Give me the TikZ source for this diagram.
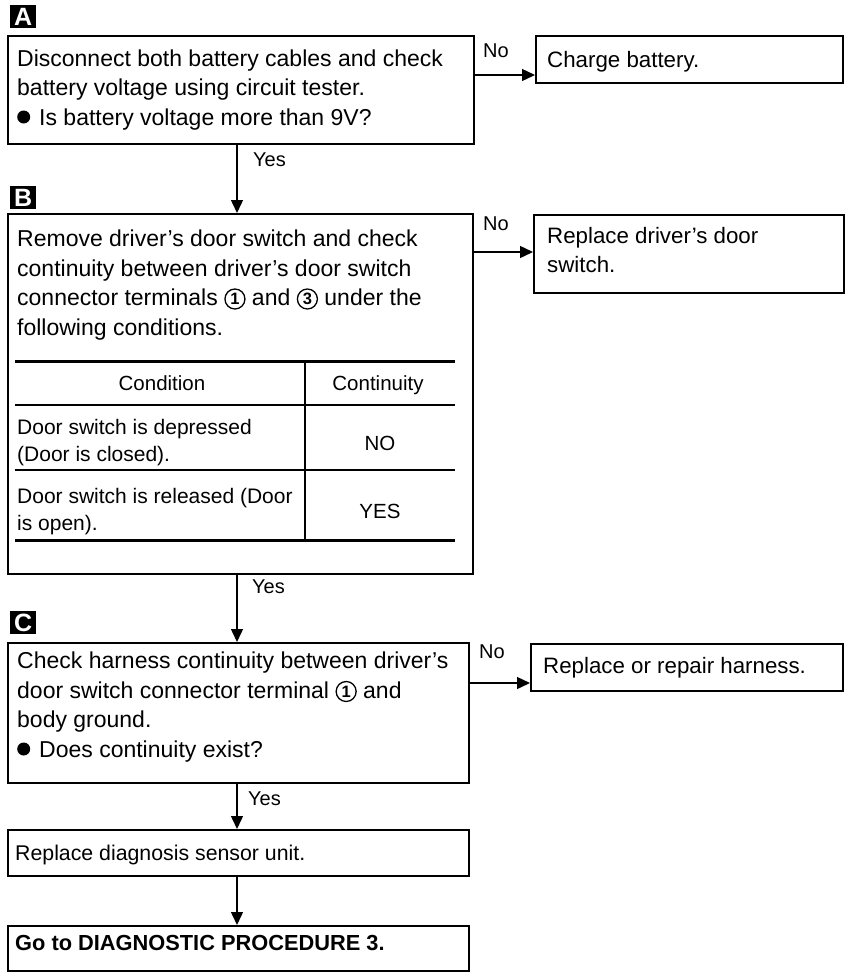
\documentclass[tikz,border=0pt]{standalone}
\usepackage{fontspec}
\setmainfont{Liberation Sans}
\usetikzlibrary{arrows.meta}
\newcommand\cnum[1]{\tikz[baseline=0pt]{\draw[line width=1.3pt] (0pt,6.5pt) circle[radius=10pt];
  \node[inner sep=0pt,anchor=center,font=\fontsize{16.5}{16.5}\selectfont\bfseries] at (0pt,6.5pt) {#1};}}
\newcommand\bigbul{\tikz[baseline=0pt]\fill (6.5pt,8pt) circle[radius=6.5pt];}
\begin{document}
\begin{tikzpicture}[x=1pt,y=-1pt,
  box/.style={draw,line width=1.6pt,inner sep=0pt,anchor=north west},
  txt/.style={anchor=base west,align=left,inner sep=0pt,font=\fontsize{23}{29.5}\selectfont},
  stxt/.style={txt,font=\fontsize{22.3}{29}\selectfont},
  cell/.style={inner sep=0pt,anchor=base,font=\fontsize{20.5}{26}\selectfont},
  rcell/.style={inner sep=0pt,anchor=base west,align=left,font=\fontsize{21}{26.5}\selectfont},
  lbl/.style={inner sep=0pt,anchor=base west,font=\fontsize{20}{20}\selectfont},
  arr/.style={line width=1.4pt,-{Triangle[length=13pt,width=12pt]}},
  tag/.style={fill=black,text=white,inner sep=0pt,minimum width=26pt,minimum height=23pt,anchor=north west,font=\fontsize{25}{25}\selectfont\bfseries},
  thick rule/.style={line width=3pt},
  thin rule/.style={line width=1.4pt}
]
\useasboundingbox (0,0) rectangle (850,972);

% tags
\node[tag] (tagA) at (10,5) {A};
\node[tag] (tagB) at (10,186) {B};
\node[tag] (tagC) at (10,611) {C};

% boxes
\node[box,minimum width=466pt,minimum height=108pt] (boxA) at (7,35) {};
\node[box,minimum width=307pt,minimum height=47pt] (charge) at (535,35) {};
\node[box,minimum width=465pt,minimum height=360pt] (boxB) at (7,213) {};
\node[box,minimum width=310pt,minimum height=78pt] (repl) at (533,214) {};
\node[box,minimum width=461pt,minimum height=140pt] (boxC) at (7,642) {};
\node[box,minimum width=312pt,minimum height=47pt] (harn) at (530,643) {};
\node[box,minimum width=461pt,minimum height=46pt] (boxD) at (7,829) {};
\node[box,minimum width=461pt,minimum height=45pt] (boxE) at (7,925) {};

% texts (base anchor = baseline of the last line)
\node[txt] (tA) at (17,125) {Disconnect both battery cables and check\\battery voltage using circuit tester.\\\bigbul\hspace{9pt}Is battery voltage more than 9V?};
\node[stxt] (tCharge) at (547,67) {Charge battery.};
\node[txt] (tB) at (17,335) {Remove driver’s door switch and check\\continuity between driver’s door switch\\connector terminals \cnum{1}\ and \cnum{3}\ under the\\following conditions.};
\node[stxt] (tRepl) at (547,272) {Replace driver’s door\\switch.};
\node[txt] (tC) at (17,757) {Check harness continuity between driver’s\\door switch connector terminal \cnum{1}\ and\\body ground.\\\bigbul\hspace{9pt}Does continuity exist?};
\node[stxt] (tHarn) at (543,673) {Replace or repair harness.};
\node[txt,font=\fontsize{21.3}{29}\selectfont] (tD) at (15,860) {Replace diagnosis sensor unit.};
\node[txt,font=\fontsize{21.8}{29}\selectfont\bfseries] (tE) at (15,950) {Go to DIAGNOSTIC PROCEDURE 3.};

% table
\coordinate (tl) at (15,361);
\coordinate (tr) at (455,361);
\coordinate (bl) at (15,540);
\coordinate (br) at (455,540);
\coordinate (vt) at (305,361);
\coordinate (vb) at (305,540);
\draw[thick rule] (tl) -- (tr);
\draw[thick rule] (bl) -- (br);
\draw[thin rule] (tl |- 0,405) -- (tr |- 0,405);
\draw[thin rule] (tl |- 0,470) -- (tr |- 0,470);
\draw[thin rule] (vt) -- (vb);
\node[cell] (hCond) at (162,390) {Condition};
\node[cell] (hCont) at (378,390) {Continuity};
\node[rcell] (r1a) at (17,461) {Door switch is depressed\\(Door is closed).};
\node[cell] (r1b) at (380,450) {NO};
\node[rcell] (r2a) at (17,530) {Door switch is released (Door\\is open).};
\node[cell] (r2b) at (380,518) {YES};

% connectors
\draw[arr] ([xshift=230pt]boxA.south west) -- ([xshift=230pt]boxB.north west);
\draw[arr] ([xshift=230pt]boxB.south west) -- ([xshift=230pt]boxC.north west);
\draw[arr] ([xshift=230pt]boxC.south west) -- ([xshift=230pt]boxD.north west);
\draw[arr] ([xshift=230pt]boxD.south west) -- ([xshift=230pt]boxE.north west);
\draw[arr] ([yshift=-40pt]boxA.north east) -- ([yshift=-40pt]boxA.north east -| charge.west);
\draw[arr] ([yshift=-39pt]boxB.north east) -- ([yshift=-39pt]boxB.north east -| repl.west);
\draw[arr] ([yshift=-41pt]boxC.north east) -- ([yshift=-41pt]boxC.north east -| harn.west);

% labels
\node[lbl] (noA) at (483,57) {No};
\node[lbl] (noB) at (483,230) {No};
\node[lbl] (noC) at (479,658) {No};
\node[lbl] (yesA) at (253,166) {Yes};
\node[lbl] (yesB) at (252,593) {Yes};
\node[lbl] (yesC) at (248,805) {Yes};
\end{tikzpicture}
\end{document}
